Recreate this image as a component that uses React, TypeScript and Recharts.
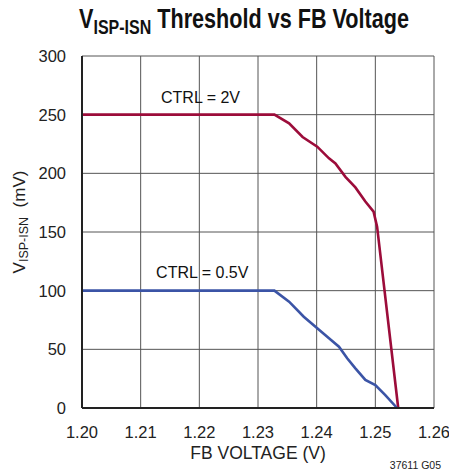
import { LineChart, Line, XAxis, YAxis, CartesianGrid, ReferenceDot } from 'recharts';

// FB voltage (V) / threshold (mV)
const ctrl2vVolts = [1.2, 1.2328, 1.2353, 1.2376, 1.2401, 1.2421, 1.2432, 1.2449, 1.2466, 1.2483, 1.2497, 1.2503, 1.2539];
const ctrl2vMv = [250, 250, 242.6, 231, 222.7, 212.8, 208.5, 197, 188, 176, 167.3, 154.5, 0];

const ctrl05Volts = [1.2, 1.2328, 1.2353, 1.2378, 1.2401, 1.2421, 1.2438, 1.2452, 1.2466, 1.2483, 1.25, 1.2517, 1.2537];
const ctrl05Mv = [100, 100, 90.6, 77.8, 67.9, 59.4, 52.3, 42.4, 33.8, 23.9, 19.6, 11, 0];

const xTicks = [1.2, 1.21, 1.22, 1.23, 1.24, 1.25, 1.26];
const yTicks = [0, 50, 100, 150, 200, 250, 300];

const toPoints = (xs: number[], ys: number[]) => xs.map((v, i) => ({ v, mv: ys[i] }));

const FONT = "'Liberation Sans', Arial, sans-serif";
const RED = '#9c0c3a';
const BLUE = '#3b54a6';

export default function App() {
  const red = toPoints(ctrl2vVolts, ctrl2vMv);
  const blue = toPoints(ctrl05Volts, ctrl05Mv);

  return (
    <div style={{ position: 'absolute', left: 0, top: 0, width: 449, height: 472, background: '#fff', fontFamily: FONT, overflow: 'hidden' }}>
      <div style={{ position: 'absolute', left: 244, top: 4, transform: 'translateX(-50%) scaleX(0.8)', fontSize: 27, fontWeight: 'bold', color: '#111', whiteSpace: 'nowrap' }}>
        V<sub style={{ fontSize: 20, verticalAlign: -6 }}>ISP-ISN</sub> Threshold vs FB Voltage
      </div>
      <LineChart width={449} height={472} margin={{ top: 56, right: 15, bottom: 0, left: 0 }}>
        <CartesianGrid stroke="#555" strokeWidth={1} />
        <XAxis
          type="number" dataKey="v" domain={[1.2, 1.26]} ticks={xTicks} height={64}
          tickFormatter={(t: number) => t.toFixed(2)} tickLine={false} tickMargin={12}
          axisLine={{ stroke: '#222', strokeWidth: 2 }}
          tick={{ fill: '#222', fontSize: 16.5, fontFamily: FONT }} allowDataOverflow
        />
        <YAxis
          type="number" domain={[0, 300]} ticks={yTicks} width={82}
          tickLine={false} tickMargin={10}
          axisLine={{ stroke: '#222', strokeWidth: 2 }}
          tick={{ fill: '#222', fontSize: 16.5, fontFamily: FONT }}
        />
        <Line data={red} dataKey="mv" type="linear" stroke={RED} strokeWidth={2.6} dot={false} isAnimationActive={false} />
        <Line data={blue} dataKey="mv" type="linear" stroke={BLUE} strokeWidth={2.6} dot={false} isAnimationActive={false} />
        <ReferenceDot x={1.2202} y={265} r={0} stroke="none"
          label={{ value: 'CTRL = 2V', position: 'center', fill: '#111', fontSize: 16, fontFamily: FONT }} />
        <ReferenceDot x={1.2205} y={116} r={0} stroke="none"
          label={{ value: 'CTRL = 0.5V', position: 'center', fill: '#111', fontSize: 16, fontFamily: FONT }} />
      </LineChart>
      <div style={{ position: 'absolute', left: 22, top: 222, transform: 'translate(-50%, -50%) rotate(-90deg)', fontSize: 17, color: '#222', whiteSpace: 'nowrap', lineHeight: '20px' }}>
        V<sub style={{ fontSize: 12.5, verticalAlign: -3 }}>ISP-ISN</sub>&nbsp; (mV)
      </div>
      <div style={{ position: 'absolute', left: 258, top: 453, transform: 'translate(-50%, -50%)', fontSize: 17.5, color: '#222', whiteSpace: 'nowrap' }}>
        FB VOLTAGE (V)
      </div>
      <div style={{ position: 'absolute', right: 8, top: 459, fontSize: 10.5, color: '#222', whiteSpace: 'nowrap' }}>
        37611 G05
      </div>
    </div>
  );
}
